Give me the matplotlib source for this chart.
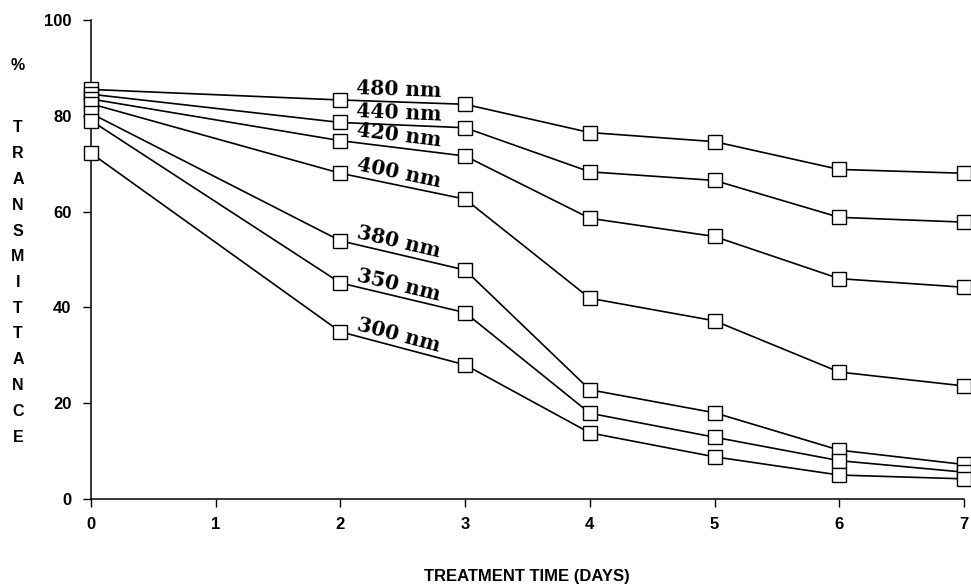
import numpy as np
import matplotlib
matplotlib.use("Agg")
import matplotlib.pyplot as plt

# treatment days and % transmittance for each wavelength
days = [0, 2, 3, 4, 5, 6, 7]
wavelengths = ["480 nm", "440 nm", "420 nm", "400 nm", "380 nm", "350 nm", "300 nm"]
t480 = [85.5, 83.3, 82.4, 76.5, 74.6, 68.8, 68.0]
t440 = [84.5, 78.6, 77.5, 68.3, 66.5, 58.8, 57.8]
t420 = [83.5, 74.8, 71.6, 58.6, 54.8, 46.0, 44.2]
t400 = [82.5, 68.0, 62.6, 41.9, 37.2, 26.5, 23.6]
t380 = [80.5, 53.9, 47.8, 22.8, 18.0, 10.2, 7.2]
t350 = [79.0, 45.1, 38.9, 17.9, 12.9, 8.0, 5.6]
t300 = [72.2, 34.9, 28.0, 13.8, 8.8, 5.0, 4.2]
series = [t480, t440, t420, t400, t380, t350, t300]
ylabel_letters = list("TRANSMITTANCE")

W, H = 971, 586
fig = plt.figure(figsize=(W / 100, H / 100), dpi=100)
ax = fig.add_axes([0.0937, 0.1485, 0.8991, 0.8174])

for vals in series:
    ax.plot(days, vals, color="black", lw=1.2, marker="s", ms=9.5,
            mfc="white", mec="black", mew=1.0, clip_on=False, zorder=3)

ax.set_xlim(0, 7)
ax.set_ylim(0, 100)
ax.set_xticks(range(0, 8))
ax.set_yticks(range(0, 101, 20))
for s in ["top", "right"]:
    ax.spines[s].set_visible(False)
ax.spines["left"].set_linewidth(1.1)
ax.spines["bottom"].set_linewidth(1.1)
ax.tick_params(direction="out", length=6, width=1.0)
ax.tick_params(axis="x", pad=7)
ax.tick_params(axis="y", pad=8)
for lab in ax.get_xticklabels() + ax.get_yticklabels():
    lab.set_fontweight("bold")
    lab.set_fontsize(12)
    lab.set_fontfamily("Liberation Sans")

fig.text(527 / W, 1 - 577 / H, "TREATMENT TIME (DAYS)", fontsize=12,
         fontweight="bold", family=["Liberation Sans Narrow", "Liberation Sans"],
         ha="center", va="center")

# stacked vertical y label
fig.text(18 / W, 1 - 65 / H, "%", fontsize=11.5, fontweight="bold",
         family="Liberation Sans", ha="center", va="center")
step = (437 - 128) / (len(ylabel_letters) - 1)
for i, ch in enumerate(ylabel_letters):
    fig.text(18 / W, 1 - (128 + i * step) / H, ch, fontsize=11.5, fontweight="bold",
             family="Liberation Sans", ha="center", va="center")

# wavelength labels along the day 2-3 segment
fig.canvas.draw()
for name, vals in zip(wavelengths, series):
    p0 = ax.transData.transform((2, vals[1]))
    p1 = ax.transData.transform((3, vals[2]))
    ang = np.degrees(np.arctan2(p1[1] - p0[1], p1[0] - p0[0]))
    x0 = 2.12
    y0 = vals[1] + (vals[2] - vals[1]) * (x0 - 2)
    ax.annotate(name, (x0, y0), xytext=(0, 1.5), textcoords="offset points",
                rotation=ang, rotation_mode="anchor", ha="left", va="bottom",
                fontsize=14.5, fontweight="bold", family="DejaVu Serif",
                zorder=4)

fig.savefig("out.png", dpi=100)
